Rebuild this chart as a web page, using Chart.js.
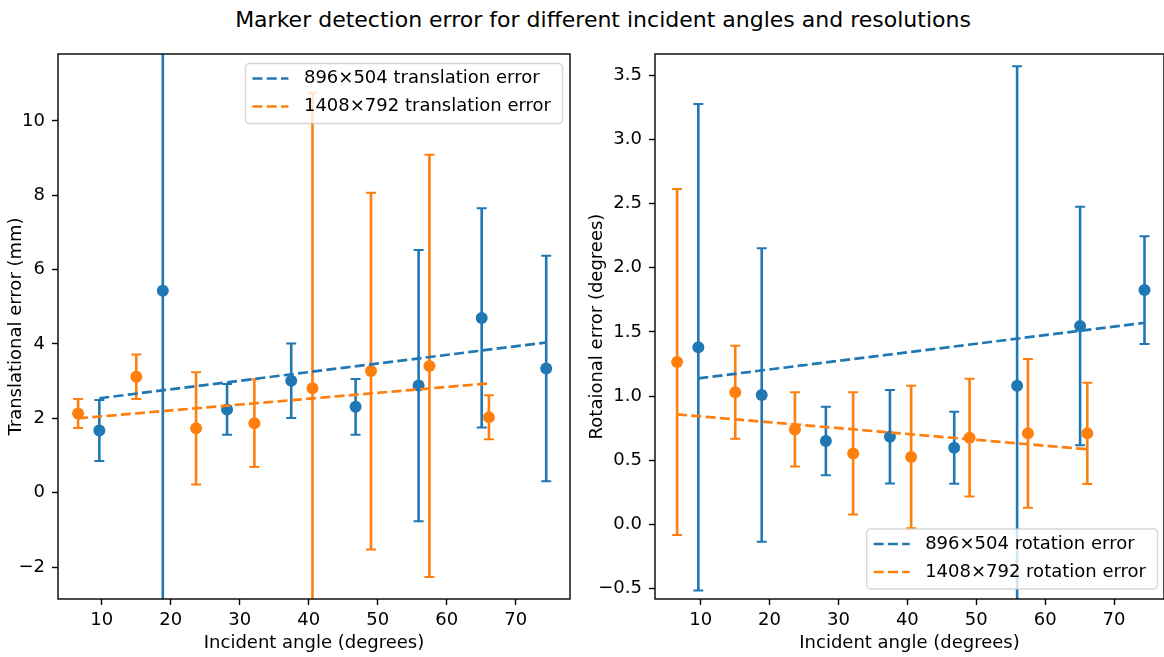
<!DOCTYPE html>
<html>
<head>
<meta charset="utf-8">
<script src="https://cdn.jsdelivr.net/npm/chart.js@4"></script>
<style>
  html, body { margin: 0; padding: 0; background: #fff; overflow: hidden; }
  body { width: 1164px; height: 657px; position: relative; font-family: "DejaVu Sans", sans-serif; }
  #title { position: absolute; left: 603px; top: 7px; transform: translateX(-50%); white-space: nowrap; font-size: 22px; line-height: 26px; color: #000; }
  #left { position: absolute; left: 0; top: 0; width: 582px; height: 657px; }
  #right { position: absolute; left: 582px; top: 0; width: 582px; height: 657px; }
</style>
</head>
<body>
<div id="title">Marker detection error for different incident angles and resolutions</div>
<canvas id="left" width="582" height="657"></canvas>
<canvas id="right" width="582" height="657"></canvas>
<script>
// incident angles (degrees) per resolution
const angles896 = [9.66, 18.86, 28.17, 37.47, 46.8, 55.93, 65.07, 74.42];
const angles1408 = [6.58, 15.02, 23.68, 32.13, 40.55, 49.03, 57.5, 66.12];

// translation error (mm): mean and std
const transMean896 = [1.67, 5.43, 2.24, 3.01, 2.31, 2.88, 4.70, 3.34];
const transStd896 = [0.82, 9.0, 0.68, 1.0, 0.75, 3.65, 2.95, 3.03];
const transMean1408 = [2.13, 3.12, 1.73, 1.87, 2.81, 3.27, 3.41, 2.03];
const transStd1408 = [0.39, 0.6, 1.51, 1.18, 7.95, 4.8, 5.68, 0.59];
// linear fit, value at first and last angle
const transFit896 = [2.54, 4.04];
const transFit1408 = [2.0, 2.94];

// rotation error (degrees): mean and std
const rotMean896 = [1.38, 1.008, 0.649, 0.683, 0.597, 1.08, 1.546, 1.826];
const rotStd896 = [1.896, 1.143, 0.267, 0.365, 0.28, 2.49, 0.93, 0.42];
const rotMean1408 = [1.265, 1.029, 0.74, 0.553, 0.525, 0.675, 0.709, 0.709];
const rotStd1408 = [1.348, 0.362, 0.289, 0.477, 0.555, 0.459, 0.58, 0.395];
const rotFit896 = [1.138, 1.571];
const rotFit1408 = [0.857, 0.585];

// tick values
const xTicks = [10, 20, 30, 40, 50, 60, 70];
const transTicks = [-2, 0, 2, 4, 6, 8, 10];
const rotTicks = [-0.5, 0, 0.5, 1, 1.5, 2, 2.5, 3, 3.5];

const BLUE = "#1f77b4";
const ORANGE = "#ff7f0e";
const DASH = [10, 4.3];

Chart.defaults.font.family = "'DejaVu Sans', sans-serif";
Chart.defaults.font.size = 18;
Chart.defaults.color = "#000";

const minus = (s) => s.replace("-", "\u2212");

const errorBars = {
    id: "errorBars",
    beforeDatasetDraw(chart, args) {
        const ds = chart.data.datasets[args.index];
        if (!ds.errors) {
            return;
        }
        const { ctx, chartArea: a, scales: { x, y } } = chart;
        ctx.save();
        ctx.beginPath();
        ctx.rect(a.left, a.top, a.right - a.left, a.bottom - a.top);
        ctx.clip();
        ctx.strokeStyle = ds.backgroundColor;
        ds.data.forEach((p, i) => {
            const px = x.getPixelForValue(p.x);
            const top = y.getPixelForValue(p.y + ds.errors[i]);
            const bottom = y.getPixelForValue(p.y - ds.errors[i]);
            ctx.lineWidth = 2.6;
            ctx.beginPath();
            ctx.moveTo(px, top);
            ctx.lineTo(px, bottom);
            ctx.stroke();
            ctx.lineWidth = 2;
            ctx.beginPath();
            ctx.moveTo(px - 5, top);
            ctx.lineTo(px + 5, top);
            ctx.moveTo(px - 5, bottom);
            ctx.lineTo(px + 5, bottom);
            ctx.stroke();
        });
        ctx.restore();
    }
};

const frameAndLegend = {
    id: "frameAndLegend",
    afterDatasetsDraw(chart, args, opts) {
        const { ctx, chartArea: a } = chart;
        ctx.save();
        ctx.strokeStyle = "#000";
        ctx.lineWidth = 1.4;
        ctx.strokeRect(a.left, a.top, a.right - a.left, a.bottom - a.top);

        const items = chart.data.datasets.filter(d => d.showLine);
        ctx.font = "18px 'DejaVu Sans'";
        const textW = Math.max(...items.map(d => ctx.measureText(d.label).width));
        const w = textW + 70;
        const h = 60;
        const right = a.right - opts.inset;
        const top = opts.corner === "top" ? a.top + 9.5 : a.bottom - 10 - h;
        const left = right - w;
        ctx.beginPath();
        if (ctx.roundRect) {
            ctx.roundRect(left, top, w, h, 4);
        } else {
            ctx.rect(left, top, w, h);
        }
        ctx.fillStyle = "rgba(255,255,255,0.8)";
        ctx.fill();
        ctx.strokeStyle = "rgba(204,204,204,0.8)";
        ctx.lineWidth = 1.4;
        ctx.stroke();
        items.forEach((d, i) => {
            const cy = top + 15 + i * 28;
            ctx.strokeStyle = d.borderColor;
            ctx.lineWidth = 2.7;
            ctx.setLineDash(d.borderDash);
            ctx.beginPath();
            ctx.moveTo(left + 7, cy);
            ctx.lineTo(left + 43, cy);
            ctx.stroke();
            ctx.setLineDash([]);
            ctx.fillStyle = "#000";
            ctx.textBaseline = "middle";
            ctx.textAlign = "left";
            ctx.fillText(d.label, left + 58.5, cy);
        });
        ctx.restore();
    }
};

const points = (xs, ys) => xs.map((x, i) => ({ x, y: ys[i] }));
const fitLine = (xs, fit) => [{ x: xs[0], y: fit[0] }, { x: xs[xs.length - 1], y: fit[1] }];

const buildChart = (canvas, cfg) => {
    const tickGrid = { drawOnChartArea: false, drawTicks: true, tickLength: 6, tickWidth: 1.4, tickColor: "#000" };
    return new Chart(canvas, {
        type: "scatter",
        data: {
            datasets: [
                { label: "896", data: points(angles896, cfg.mean896), errors: cfg.std896, backgroundColor: BLUE, pointRadius: 6, pointBorderWidth: 0, order: 4 },
                { label: "1408", data: points(angles1408, cfg.mean1408), errors: cfg.std1408, backgroundColor: ORANGE, pointRadius: 6, pointBorderWidth: 0, order: 3 },
                { label: cfg.label896, data: fitLine(angles896, cfg.fit896), showLine: true, borderColor: BLUE, borderWidth: 2.7, borderDash: DASH, pointRadius: 0, order: 2 },
                { label: cfg.label1408, data: fitLine(angles1408, cfg.fit1408), showLine: true, borderColor: ORANGE, borderWidth: 2.7, borderDash: DASH, pointRadius: 0, order: 1 }
            ]
        },
        options: {
            responsive: false,
            animation: false,
            events: [],
            layout: { padding: cfg.padding, autoPadding: false },
            plugins: {
                legend: { display: false },
                tooltip: { enabled: false },
                frameAndLegend: { corner: cfg.corner, inset: cfg.legendInset }
            },
            scales: {
                x: {
                    type: "linear",
                    min: cfg.xMin,
                    max: cfg.xMax,
                    afterBuildTicks: s => { s.ticks = xTicks.map(v => ({ value: v })); },
                    afterFit: s => { s.height = 58; },
                    ticks: { autoSkip: false, maxRotation: 0, padding: 5, callback: v => String(v) },
                    grid: tickGrid,
                    border: { display: false },
                    title: { display: true, text: "Incident angle (degrees)", padding: { top: 0, bottom: 3 } }
                },
                y: {
                    type: "linear",
                    min: cfg.yMin,
                    max: cfg.yMax,
                    afterBuildTicks: s => { s.ticks = cfg.yTicks.map(v => ({ value: v })); },
                    afterFit: s => { s.width = cfg.yWidth; },
                    ticks: { autoSkip: false, padding: 7, callback: cfg.yFormat },
                    grid: tickGrid,
                    border: { display: false },
                    title: { display: true, text: cfg.yTitle, padding: { top: cfg.yTitlePad, bottom: 0 } }
                }
            }
        },
        plugins: [errorBars, frameAndLegend]
    });
};

buildChart(document.getElementById("left"), {
    mean896: transMean896, std896: transStd896, mean1408: transMean1408, std1408: transStd1408,
    fit896: transFit896, fit1408: transFit1408,
    label896: "896\u00d7504 translation error", label1408: "1408\u00d7792 translation error",
    corner: "top", legendInset: 7.5,
    padding: { top: 54, right: 12, bottom: 0, left: 0 },
    xMin: 3.67, xMax: 77.87, yMin: -2.86, yMax: 11.8,
    yTicks: transTicks, yFormat: v => minus(String(v)),
    yWidth: 58, yTitle: "Translational error (mm)", yTitlePad: 5.7
});

buildChart(document.getElementById("right"), {
    mean896: rotMean896, std896: rotStd896, mean1408: rotMean1408, std1408: rotStd1408,
    fit896: rotFit896, fit1408: rotFit1408,
    label896: "896\u00d7504 rotation error", label1408: "1408\u00d7792 rotation error",
    corner: "bottom", legendInset: 6.5,
    padding: { top: 54, right: 0, bottom: 0, left: 0 },
    xMin: 3.37, xMax: 77.25, yMin: -0.582, yMax: 3.666,
    yTicks: rotTicks, yFormat: v => minus(v.toFixed(1)),
    yWidth: 73, yTitle: "Rotaional error (degrees)", yTitlePad: 4.2
});
</script>
</body>
</html>
